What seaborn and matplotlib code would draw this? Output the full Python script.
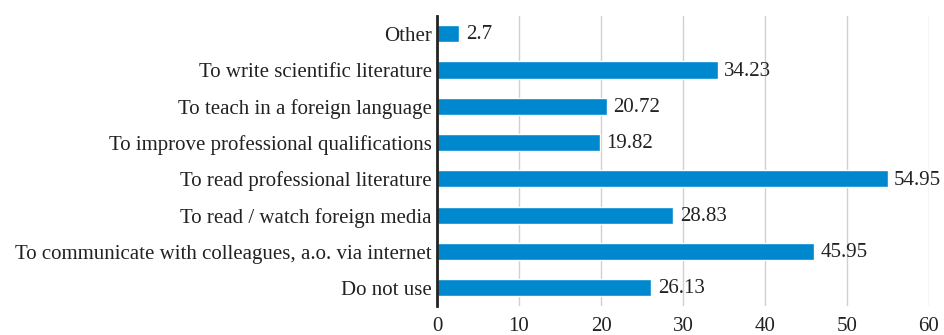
import matplotlib
matplotlib.use("Agg")
import matplotlib.pyplot as plt
import seaborn as sns
import pandas as pd

categories = [
    "Other",
    "To write scientific literature",
    "To teach in a foreign language",
    "To improve professional qualifications",
    "To read professional literature",
    "To read / watch foreign media",
    "To communicate with colleagues, a.o. via internet",
    "Do not use",
]
values = [2.7, 34.23, 20.72, 19.82, 54.95, 28.83, 45.95, 26.13]
value_labels = ["2.7", "34.23", "20.72", "19.82", "54.95", "28.83", "45.95", "26.13"]
xticks = [0, 10, 20, 30, 40, 50, 60]

sns.set_theme(style="white")
plt.rcParams["font.family"] = ["Liberation Serif", "DejaVu Serif"]

df = pd.DataFrame({"category": categories, "value": values})

fs = 15

fig = plt.figure(figsize=(9.44, 3.35), dpi=100)
ax = fig.add_axes([0.463, 0.0866, 0.521, 0.867])
sns.barplot(data=df, y="category", x="value", orient="h", color="#0088CE",
            saturation=1, width=0.47, ax=ax)

ax.set_xlim(0, 60)
ax.set_ylim(len(categories) - 0.5, -0.5)
ax.set_xticks(xticks)
ax.set_xticklabels([str(t) for t in xticks], fontsize=fs, color="#222222")
ax.tick_params(axis="y", labelsize=fs, labelcolor="#222222", length=0, pad=4)
ax.tick_params(axis="x", length=0, pad=8)
ax.set_xlabel("")
ax.set_ylabel("")
ax.grid(axis="x", color="#d0d0d0", linewidth=1)
ax.set_axisbelow(True)
for s in ["top", "right", "bottom"]:
    ax.spines[s].set_visible(False)
ax.spines["left"].set_color("#222222")
ax.spines["left"].set_linewidth(2)

for i, (v, lab) in enumerate(zip(values, value_labels)):
    ax.text(v + 0.8, i + 0.03, lab, va="center", ha="left", fontsize=fs, color="#222222")

fig.savefig("out.png", dpi=100)
